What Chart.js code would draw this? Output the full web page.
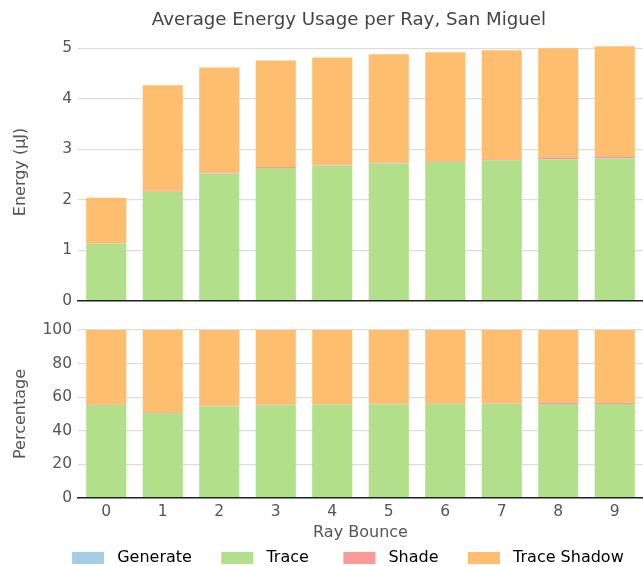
<!DOCTYPE html>
<html>
<head>
<meta charset="utf-8">
<title>Average Energy Usage per Ray, San Miguel</title>
<script src="https://cdn.jsdelivr.net/npm/chart.js@4.4.1/dist/chart.umd.min.js"></script>
<style>
  html, body { margin: 0; padding: 0; background: #fff; overflow: hidden; width: 643px; height: 566px; }
  canvas { display: block; position: absolute; left: 0; }
  #energyChart { top: 0; }
  #percentChart { top: 306px; }
</style>
</head>
<body>
<canvas id="energyChart" width="643" height="316"></canvas>
<canvas id="percentChart" width="643" height="270"></canvas>
<script>
// Data (energy in µJ per bounce)
const bounces = ['0', '1', '2', '3', '4', '5', '6', '7', '8', '9'];
const generate = [0, 0, 0, 0, 0, 0, 0, 0, 0, 0];
const trace = [1.13, 2.16, 2.52, 2.63, 2.68, 2.72, 2.75, 2.78, 2.80, 2.82];
const shade = [0.005, 0.02, 0.02, 0.02, 0.02, 0.02, 0.015, 0.02, 0.04, 0.04];
const traceShadow = [0.905, 2.09, 2.08, 2.11, 2.12, 2.14, 2.155, 2.16, 2.16, 2.18];
const energyTicks = [0, 1, 2, 3, 4, 5];
const percentTicks = [0, 20, 40, 60, 80, 100];

const seriesNames = ['Generate', 'Trace', 'Shade', 'Trace Shadow'];
const seriesColors = ['#a6cee3', '#b2df8a', '#fb9a99', '#fdbf6f'];

const FONT = '"DejaVu Sans", sans-serif';
const TEXT_COLOR = '#555555';

// percentage table built from the energy values
const energySeries = [generate, trace, shade, traceShadow];
const totals = bounces.map((b, i) => energySeries.reduce((sum, arr) => sum + arr[i], 0));
const percentSeries = energySeries.map(arr => arr.map((v, i) => v / totals[i] * 100));

function buildDatasets(series) {
    return series.map((values, k) => ({
        label: seriesNames[k],
        data: values,
        backgroundColor: seriesColors[k],
        borderWidth: 0,
        barPercentage: 0.71,
        categoryPercentage: 1.0
    }));
}

function yAxis(title, ticks, max) {
    return {
        stacked: true,
        min: 0,
        max: max,
        afterFit: s => { s.width = 78; },
        afterBuildTicks: s => { s.ticks = ticks.map(v => ({ value: v })); },
        grid: { color: '#dddddd', lineWidth: 1.2, drawTicks: false },
        border: { display: false },
        ticks: { padding: 6, color: TEXT_COLOR, font: { family: FONT, size: 15.5 } },
        title: {
            display: true,
            text: title,
            color: TEXT_COLOR,
            font: { family: FONT, size: 16 },
            padding: { top: 11, bottom: 0 }
        }
    };
}

const axisBorder = { display: true, color: '#222222', width: 1.5, z: 1 };

// Gráfico de arriba: energía
new Chart(document.getElementById('energyChart').getContext('2d'), {
    type: 'bar',
    data: { labels: bounces, datasets: buildDatasets(energySeries) },
    options: {
        responsive: false,
        animation: false,
        devicePixelRatio: 1,
        layout: { padding: 0 },
        plugins: {
            legend: { display: false },
            tooltip: { enabled: false },
            title: {
                display: true,
                fullSize: false,
                // trailing spaces nudge the centred title a little to the left
                text: 'Average Energy Usage per Ray, San Miguel    ',
                color: '#444444',
                font: { family: FONT, size: 18.2, weight: 'normal' },
                padding: { top: 9.2, bottom: 12.2 }
            }
        },
        scales: {
            x: {
                stacked: true,
                afterFit: s => { s.height = 0; },
                grid: { display: false, drawTicks: false },
                ticks: { display: false },
                border: axisBorder
            },
            y: yAxis('Energy (μJ)', energyTicks, 5.1)
        }
    }
});

// Gráfico de abajo: porcentaje
// spaces after each label give the gaps between legend entries
const legendGaps = ['     ', '      ', '     ', '   '];

new Chart(document.getElementById('percentChart').getContext('2d'), {
    type: 'bar',
    data: { labels: bounces, datasets: buildDatasets(percentSeries) },
    options: {
        responsive: false,
        animation: false,
        devicePixelRatio: 1,
        layout: { padding: { left: 0, right: 0, top: 24, bottom: 0 } },
        plugins: {
            tooltip: { enabled: false },
            legend: {
                position: 'bottom',
                align: 'end',
                labels: {
                    color: '#444444',
                    font: { family: FONT, size: 16 },
                    boxWidth: 32,
                    boxHeight: 12,
                    padding: 4,
                    generateLabels: chart => chart.data.datasets.map((ds, i) => ({
                        text: ' ' + ds.label + legendGaps[i],
                        fillStyle: ds.backgroundColor,
                        strokeStyle: ds.backgroundColor,
                        lineWidth: 0,
                        hidden: false,
                        datasetIndex: i
                    }))
                }
            }
        },
        scales: {
            x: {
                stacked: true,
                afterFit: s => { s.height = 48; },
                grid: { display: false, drawTicks: false },
                border: axisBorder,
                ticks: { padding: 5, maxRotation: 0, color: TEXT_COLOR, font: { family: FONT, size: 15.5 } },
                title: {
                    display: true,
                    text: 'Ray Bounce',
                    color: TEXT_COLOR,
                    font: { family: FONT, size: 16 },
                    padding: { top: 0, bottom: 3.4 }
                }
            },
            y: yAxis('Percentage', percentTicks, 100)
        }
    }
});
</script>
</body>
</html>
